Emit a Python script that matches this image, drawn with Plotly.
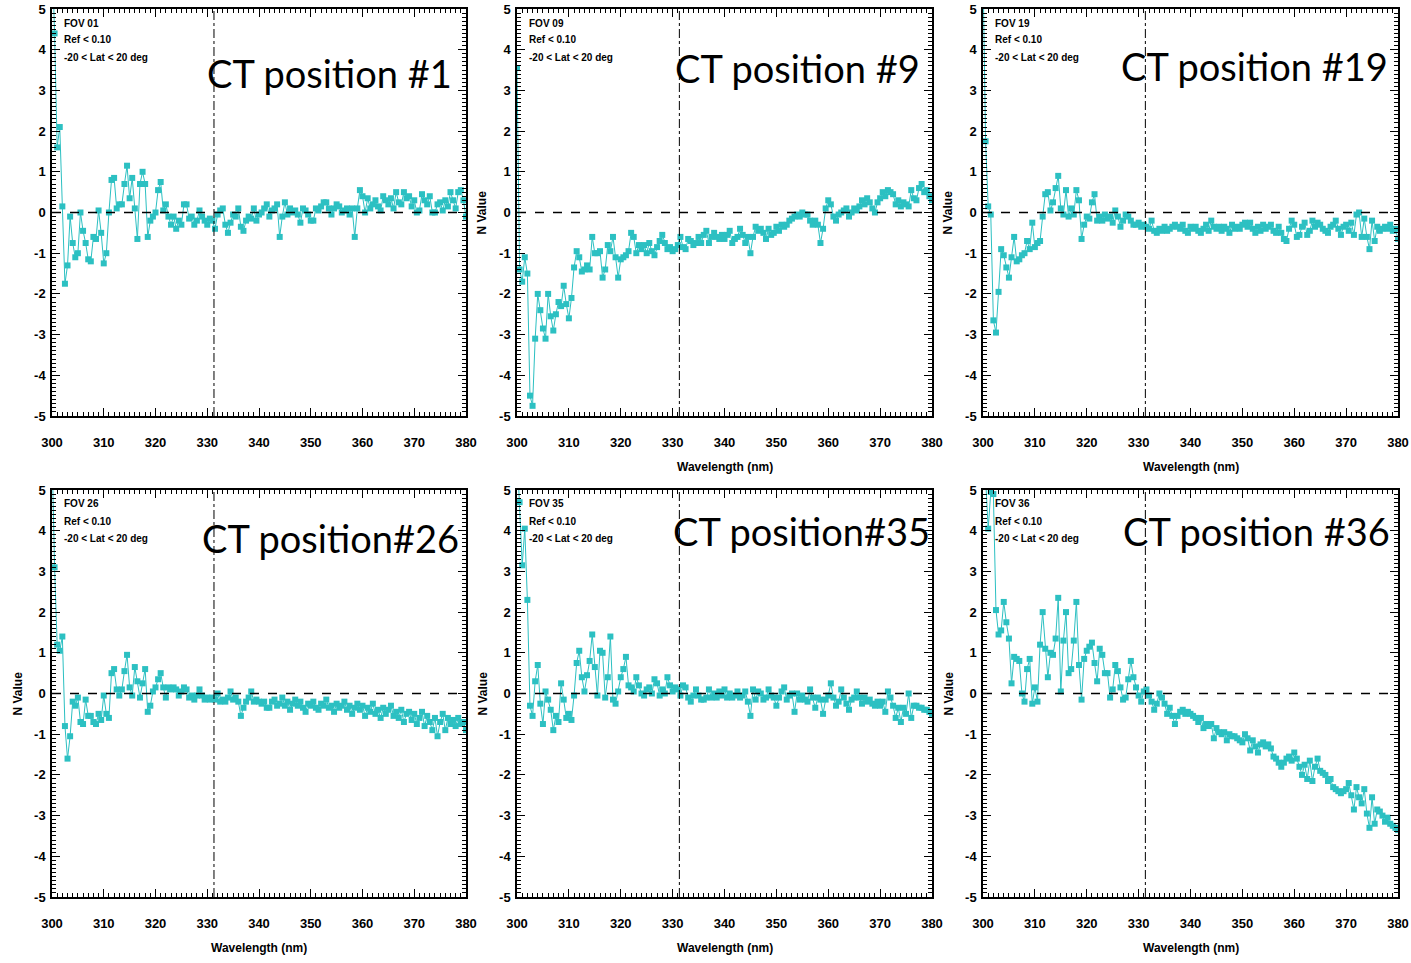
import plotly.graph_objects as go

# ---------------- data (N value vs wavelength, 0.5 nm grid from 300 to 380 nm) ----------------
WL_START = 300.0
WL_STEP = 0.5

fov01 = [
    6.5, 4.4, 1.6, 2.1, 0.15, -1.75, -1.3, -0.1, -0.75, -1.1, -1.0, 0.0, -0.45, -0.75, -1.15, -1.2, -0.6, -0.65, 0.05, -0.5,
    -1.25, -1.0, 0.0, 0.8, 0.85, 0.1, 0.2, 0.2, 0.7, 1.15, 0.35, 0.85, 0.1, -0.65, 0.7, 1.0, 0.7, -0.6, -0.2, -0.1,
    0.0, 0.55, 0.75, 0.05, 0.2, -0.1, -0.3, -0.1, -0.4, -0.2, -0.3, 0.2, 0.2, -0.15, -0.1, -0.3, -0.2, 0.05, -0.1, -0.2,
    -0.3, -0.15, -0.2, -0.4, -0.05, 0.05, 0.1, -0.3, -0.5, -0.25, -0.05, -0.1, 0.1, -0.35, -0.45, -0.2, -0.1, -0.15, 0.1, -0.2,
    -0.05, 0.0, 0.1, 0.2, -0.1, 0.05, 0.1, 0.2, -0.6, -0.1, 0.25, -0.05, 0.1, 0.0, 0.05, -0.05, -0.25, 0.1, 0.05, -0.05,
    -0.2, -0.2, 0.1, 0.05, 0.15, 0.25, 0.25, 0.1, -0.05, 0.1, 0.2, 0.15, 0.0, 0.05, 0.1, -0.05, 0.1, -0.6, 0.1, 0.55,
    0.4, 0.0, 0.35, 0.1, 0.2, 0.3, 0.15, 0.05, 0.4, 0.3, 0.2, 0.35, 0.1, 0.5, 0.25, 0.2, 0.5, 0.35, 0.4, 0.15,
    0.3, 0.0, 0.05, 0.45, 0.3, 0.2, 0.4, 0.0, 0.0, 0.2, 0.25, 0.05, 0.3, 0.15, 0.5, 0.3, 0.1, 0.5, 0.55, 0.3,
    -0.1,
]

fov09 = [
    3.55, -1.4, -1.7, -1.1, -1.5, -4.5, -4.75, -3.1, -2.0, -2.4, -2.85, -3.1, -2.0, -2.55, -2.9, -2.5, -2.2, -2.3, -1.8, -2.25,
    -2.6, -2.1, -1.35, -0.95, -1.1, -1.45, -1.4, -1.3, -1.4, -0.6, -1.0, -1.0, -0.95, -1.6, -1.4, -0.8, -0.95, -0.6, -1.1, -1.6,
    -1.15, -1.1, -1.05, -0.95, -0.5, -0.6, -1.0, -0.8, -0.9, -0.8, -1.0, -0.75, -0.95, -1.05, -0.85, -0.7, -0.55, -0.75, -0.9, -0.85,
    -0.95, -0.9, -0.8, -0.6, -0.85, -0.9, -0.65, -0.7, -0.8, -0.75, -0.6, -0.75, -0.55, -0.45, -0.75, -0.6, -0.5, -0.6, -0.65, -0.55,
    -0.65, -0.55, -0.45, -0.75, -0.65, -0.6, -0.4, -0.55, -0.75, -0.6, -1.0, -0.6, -0.35, -0.45, -0.4, -0.5, -0.65, -0.4, -0.55, -0.5,
    -0.35, -0.45, -0.3, -0.35, -0.3, -0.2, -0.15, -0.1, -0.05, -0.1, 0.0, -0.05, -0.05, -0.2, -0.3, -0.2, -0.3, -0.75, -0.4, 0.1,
    0.3, 0.2, -0.1, -0.2, -0.05, 0.0, 0.05, 0.1, -0.1, 0.0, 0.1, 0.05, 0.15, 0.3, 0.2, 0.35, 0.25, 0.1, 0.0, 0.25,
    0.35, 0.5, 0.4, 0.55, 0.5, 0.45, 0.2, 0.3, 0.15, 0.25, 0.2, 0.15, 0.55, 0.35, 0.3, 0.6, 0.7, 0.5, 0.55, 0.4,
    0.3,
]

fov19 = [
    6.0, 1.75, 0.15, -0.05, -2.65, -2.95, -1.95, -0.9, -1.05, -1.35, -1.6, -1.1, -0.6, -1.2, -1.15, -1.05, -1.0, -0.7, -0.9, -0.25,
    -0.85, -0.75, -0.7, -0.1, 0.45, 0.5, 0.05, 0.25, 0.6, 0.9, 0.1, -0.05, 0.55, -0.1, 0.1, -0.05, 0.55, 0.3, -0.65, -0.3,
    -0.1, -0.15, 0.25, 0.45, -0.2, -0.1, -0.2, -0.05, -0.15, -0.1, -0.25, 0.05, -0.1, -0.35, -0.2, -0.05, -0.1, -0.2, -0.3, -0.3,
    -0.25, -0.35, -0.3, -0.35, -0.4, -0.2, -0.45, -0.5, -0.4, -0.45, -0.35, -0.45, -0.4, -0.35, -0.3, -0.35, -0.4, -0.3, -0.45, -0.5,
    -0.35, -0.4, -0.35, -0.45, -0.5, -0.4, -0.3, -0.45, -0.2, -0.35, -0.4, -0.35, -0.45, -0.35, -0.4, -0.5, -0.3, -0.4, -0.35, -0.4,
    -0.3, -0.25, -0.35, -0.25, -0.4, -0.5, -0.35, -0.45, -0.3, -0.4, -0.35, -0.3, -0.45, -0.5, -0.35, -0.5, -0.65, -0.7, -0.4, -0.2,
    -0.3, -0.6, -0.55, -0.35, -0.25, -0.55, -0.45, -0.2, -0.35, -0.25, -0.3, -0.4, -0.45, -0.5, -0.35, -0.3, -0.2, -0.4, -0.55, -0.35,
    -0.3, -0.45, -0.25, -0.55, -0.05, 0.0, -0.6, -0.15, -0.6, -0.9, -0.2, -0.7, -0.35, -0.45, -0.4, -0.35, -0.4, -0.3, -0.45, -0.4,
    -0.65,
]

fov26 = [
    6.0, 3.1, 1.2, 1.05, 1.4, -0.8, -1.6, -1.05, -0.2, -0.3, -0.1, -0.7, -0.75, -0.15, -0.55, -0.55, -0.7, -0.75, -0.5, -0.65,
    -0.05, -0.5, -0.6, 0.5, 0.6, 0.1, -0.05, 0.1, 0.55, 0.95, 0.15, -0.05, 0.65, 0.3, -0.1, 0.25, 0.6, -0.45, -0.3, 0.05,
    0.15, 0.35, 0.5, 0.15, -0.1, 0.15, 0.1, 0.15, 0.1, -0.05, 0.05, 0.15, 0.1, -0.1, -0.05, -0.15, -0.05, 0.1, -0.05, -0.15,
    -0.1, -0.15, -0.1, -0.15, 0.0, -0.2, -0.15, -0.2, -0.1, 0.05, -0.15, -0.1, -0.2, -0.55, -0.35, -0.2, -0.1, 0.05, -0.2, -0.15,
    -0.2, -0.25, -0.2, -0.35, -0.35, -0.2, -0.15, -0.3, -0.25, -0.1, -0.3, -0.2, -0.4, -0.25, -0.15, -0.3, -0.2, -0.35, -0.45, -0.25,
    -0.3, -0.2, -0.35, -0.4, -0.25, -0.3, -0.15, -0.35, -0.3, -0.45, -0.25, -0.35, -0.3, -0.2, -0.4, -0.3, -0.5, -0.35, -0.25, -0.4,
    -0.3, -0.55, -0.35, -0.45, -0.25, -0.5, -0.4, -0.6, -0.35, -0.5, -0.4, -0.3, -0.55, -0.45, -0.6, -0.4, -0.7, -0.5, -0.45, -0.65,
    -0.5, -0.75, -0.6, -0.45, -0.8, -0.55, -0.7, -0.9, -0.6, -1.05, -0.7, -0.5, -0.9, -0.6, -0.75, -0.65, -0.8, -0.6, -0.75, -0.7,
    -0.9,
]

fov35 = [
    6.0, 4.7, 3.15, 4.05, 2.3, -0.3, -0.55, 0.3, 0.7, -0.25, -0.75, 0.05, -0.15, -0.4, -0.9, -0.55, -0.7, 0.25, -0.15, -0.6,
    -0.5, -0.65, -0.05, 0.75, 1.05, 0.4, 0.05, 0.45, 0.8, 1.45, 0.65, -0.05, 1.05, 1.0, -0.1, 0.4, 1.4, -0.15, -0.25, 0.05,
    0.4, 0.6, 0.9, 0.2, 0.15, 0.05, 0.4, 0.2, 0.0, -0.05, 0.1, 0.15, 0.0, 0.35, 0.25, -0.05, 0.1, 0.0, 0.4, 0.2,
    0.05, 0.15, 0.1, -0.05, 0.2, 0.15, -0.1, -0.2, -0.05, 0.1, -0.05, -0.15, -0.15, -0.1, 0.1, -0.1, 0.0, -0.1, 0.05, -0.05,
    0.1, -0.1, 0.0, -0.1, -0.05, 0.05, -0.1, -0.05, 0.05, -0.2, -0.55, 0.1, -0.15, 0.05, 0.0, -0.15, -0.1, 0.1, -0.05, -0.1,
    -0.3, -0.1, 0.05, 0.15, -0.15, -0.05, 0.0, -0.45, 0.0, -0.15, -0.05, -0.15, -0.2, 0.1, -0.1, -0.35, -0.1, -0.15, -0.5, -0.15,
    -0.05, 0.25, -0.1, -0.3, -0.2, 0.1, -0.1, -0.25, -0.4, -0.15, -0.1, 0.05, -0.1, -0.25, -0.1, -0.2, -0.15, -0.25, -0.3, -0.2,
    -0.3, -0.2, -0.45, 0.05, -0.1, -0.3, -0.6, -0.35, -0.7, -0.35, -0.5, 0.0, -0.6, -0.3, -0.3, -0.35, -0.35, -0.4, -0.4, -0.45,
    -0.5,
]

fov36 = [
    6.5, 5.3, 4.05, 4.95, 4.9, 2.05, 1.45, 1.55, 2.25, 1.75, 1.35, 0.25, 0.9, 0.85, 0.8, 0.0, -0.2, 0.6, 0.85, -0.25,
    0.15, -0.2, 1.2, 2.0, 1.1, 0.4, 1.0, 0.95, 1.35, 2.35, 0.05, 1.3, 2.0, 0.5, 0.6, 1.3, 2.25, 0.7, -0.15, 0.85,
    1.05, 1.15, 1.25, 0.75, 0.3, 1.1, 0.95, 0.5, 0.5, -0.1, 0.1, 0.7, 0.55, 0.15, -0.15, -0.1, 0.35, 0.8, 0.4, 0.15,
    -0.05, -0.2, 0.05, 0.1, -0.05, -0.2, -0.4, -0.25, 0.0, -0.1, -0.25, -0.5, -0.35, -0.55, -0.75, -0.55, -0.45, -0.4, -0.5, -0.45,
    -0.5, -0.55, -0.6, -0.7, -0.6, -0.85, -0.75, -0.8, -0.75, -1.1, -0.85, -0.95, -1.0, -0.95, -1.15, -1.0, -1.05, -1.05, -1.1, -1.15,
    -1.2, -1.0, -1.1, -1.4, -1.15, -1.3, -1.45, -1.25, -1.2, -1.3, -1.25, -1.35, -1.55, -1.6, -1.7, -1.8, -1.7, -1.6, -1.55, -1.65,
    -1.45, -1.6, -1.8, -2.0, -1.75, -2.1, -1.65, -2.15, -1.8, -1.6, -1.9, -1.95, -2.0, -2.15, -2.1, -2.3, -2.35, -2.4, -2.45, -2.4,
    -2.35, -2.2, -2.5, -2.85, -2.3, -2.55, -2.7, -2.35, -2.95, -3.3, -2.55, -3.2, -2.85, -2.9, -3.0, -3.15, -3.05, -3.2, -3.25, -3.3,
    -3.35,
]

fov_names = ["FOV 01", "FOV 09", "FOV 19", "FOV 26", "FOV 35", "FOV 36"]
ct_labels = ["CT position #1", "CT position #9", "CT position #19",
             "CT position#26", "CT position#35", "CT position #36"]
series = [fov01, fov09, fov19, fov26, fov35, fov36]
info_lines = ["Ref < 0.10", "-20 < Lat < 20 deg"]
x_ticks = [300, 310, 320, 330, 340, 350, 360, 370, 380]
y_ticks = [-5, -4, -3, -2, -1, 0, 1, 2, 3, 4, 5]
REF_WAVELENGTH = 331.3
X_TITLE = "Wavelength (nm)"
Y_TITLE = "N Value"

# ---------------- layout geometry (pixels) ----------------
W, H = 1411, 963
col_px = [(52, 466), (517, 932), (983, 1398)]
row_px = [(9, 416), (490, 897)]
show_xtitle = [False, True, True, True, True, True]
show_ytitle = [False, True, True, True, True, True]
ct_pos = [(329, 73), (797, 68), (1254, 66), (330, 538), (801, 531), (1256, 531)]

COLOR = "#2cc0c2"
TICK_FONT = dict(family="Liberation Sans Narrow, Arial Narrow, Liberation Sans, Arial, sans-serif",
                 size=13, color="black", weight="bold")

fig = go.Figure()
layout = dict(width=W, height=H, margin=dict(l=0, r=0, t=0, b=0, autoexpand=False),
              paper_bgcolor="white", plot_bgcolor="white", showlegend=False)
annotations = []
shapes = []

for i, ys in enumerate(series):
    r, c = divmod(i, 3)
    x0, x1 = col_px[c]
    y0, y1 = row_px[r]
    xd = [x0 / W, x1 / W]
    yd = [1 - y1 / H, 1 - y0 / H]
    n = "" if i == 0 else str(i + 1)
    xs = [WL_START + WL_STEP * k for k in range(len(ys))]
    fig.add_trace(go.Scatter(
        x=xs, y=ys, xaxis="x" + n, yaxis="y" + n, mode="lines+markers",
        line=dict(color=COLOR, width=1),
        marker=dict(symbol="square", size=6, color=COLOR),
        hoverinfo="skip"))
    common = dict(showline=True, linecolor="black", linewidth=1.5, mirror="allticks",
                  ticks="inside", ticklen=8, tickwidth=1, tickcolor="black", automargin=False,
                  showgrid=False, zeroline=False, tickfont=TICK_FONT)
    layout["xaxis" + n] = dict(domain=xd, range=[300, 380], anchor="y" + n,
                               tickvals=x_ticks, ticktext=[str(t) for t in x_ticks],
                               minor=dict(ticks="inside", dtick=1, ticklen=4, tickcolor="black"),
                               ticklabelstandoff=14, **common)
    layout["yaxis" + n] = dict(domain=yd, range=[-5, 5], anchor="x" + n,
                               tickvals=y_ticks, ticktext=[str(t) for t in y_ticks],
                               minor=dict(ticks="inside", dtick=0.1, ticklen=4, tickcolor="black"),
                               ticklabelstandoff=2, **common)
    # zero line and reference wavelength line
    shapes.append(dict(type="line", xref="x" + n + " domain", yref="y" + n, x0=0, x1=1, y0=0, y1=0,
                       line=dict(color="black", width=1.5, dash="dash")))
    shapes.append(dict(type="line", xref="x" + n, yref="y" + n + " domain", x0=REF_WAVELENGTH,
                       x1=REF_WAVELENGTH, y0=0, y1=1, line=dict(color="black", width=1, dash="dashdot")))
    # small info text
    small_font = dict(family="Liberation Sans Narrow, Arial Narrow, Liberation Sans, sans-serif",
                      size=10, color="black", weight="bold")
    for j, (txt, off) in enumerate(zip([fov_names[i]] + info_lines, [14, 31, 48])):
        annotations.append(dict(text=txt, xref="paper", yref="paper", x=(x0 + 10) / W,
                                y=1 - (y0 + off) / H, xanchor="left", yanchor="middle",
                                showarrow=False, font=small_font))
    # big CT label
    cx, cy = ct_pos[i]
    annotations.append(dict(text=ct_labels[i], xref="paper", yref="paper", x=cx / W, y=1 - cy / H,
                            xanchor="center", yanchor="middle", showarrow=False,
                            font=dict(family="Lato, Open Sans, sans-serif", size=38, color="black")))
    if show_xtitle[i]:
        annotations.append(dict(text=X_TITLE, xref="paper", yref="paper", x=(x0 + x1) / 2 / W,
                                y=1 - (y1 + 51) / H, xanchor="center", yanchor="middle",
                                showarrow=False, font=dict(TICK_FONT, size=12)))
    if show_ytitle[i]:
        annotations.append(dict(text=Y_TITLE, xref="paper", yref="paper", x=(x0 - 35) / W,
                                y=1 - (y0 + y1) / 2 / H, xanchor="center", yanchor="middle",
                                textangle=-90, showarrow=False, font=dict(TICK_FONT, size=12)))

layout["annotations"] = annotations
layout["shapes"] = shapes
fig.update_layout(**layout)
fig.write_html("out.html")
